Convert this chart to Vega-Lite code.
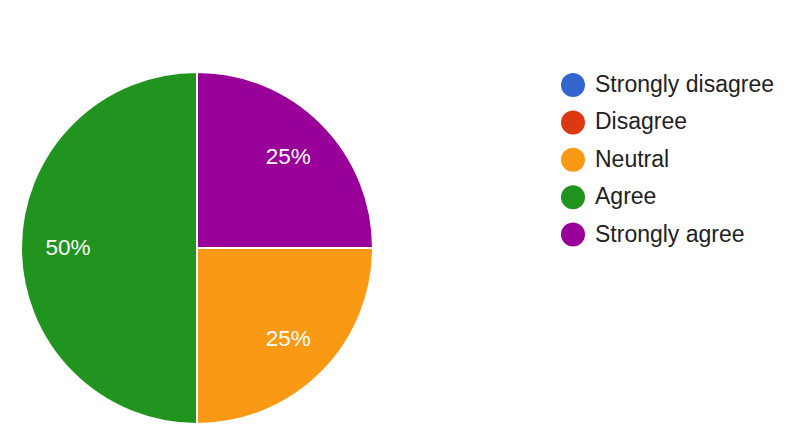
{
  "$schema": "https://vega.github.io/schema/vega-lite/v6.json",
  "autosize": "none",
  "width": 352,
  "height": 352,
  "padding": {"left": 21, "top": 72, "right": 427, "bottom": 18},
  "background": "white",
  "config": {"view": {"stroke": null}},
  "data": {
    "values": [
      {"Response": "Strongly disagree", "share": 0},
      {"Response": "Disagree", "share": 0},
      {"Response": "Neutral", "share": 0.25},
      {"Response": "Agree", "share": 0.5},
      {"Response": "Strongly agree", "share": 0.25}
    ]
  },
  "encoding": {
    "theta": {"field": "share", "type": "quantitative", "stack": true},
    "order": {"field": "Response", "sort": "descending"}
  },
  "layer": [
    {
      "mark": {"type": "arc", "stroke": "white", "strokeWidth": 2},
      "encoding": {
        "color": {
          "field": "Response",
          "type": "nominal",
          "scale": {
            "domain": ["Strongly disagree", "Disagree", "Neutral", "Agree", "Strongly agree"],
            "range": ["#3366cc", "#dc3912", "#fa9914", "#21941f", "#990099"]
          },
          "legend": {
            "title": null,
            "orient": "none",
            "legendX": 540,
            "legendY": 1,
            "padding": 0,
            "symbolType": "circle",
            "symbolSize": 576,
            "symbolStrokeWidth": 0,
            "symbolOpacity": 1,
            "labelFont": "Liberation Sans",
            "labelFontSize": 23,
            "labelColor": "#222222",
            "labelOffset": 10,
            "rowPadding": 13.4,
            "labelLimit": 300
          }
        }
      }
    },
    {
      "transform": [{"filter": "datum.share > 0"}],
      "mark": {
        "type": "text",
        "radius": 129,
        "font": "Liberation Sans",
        "fontSize": 22.5,
        "color": "white",
        "baseline": "middle",
        "align": "center"
      },
      "encoding": {
        "text": {"field": "share", "type": "quantitative", "format": ".0%"}
      }
    }
  ]
}
